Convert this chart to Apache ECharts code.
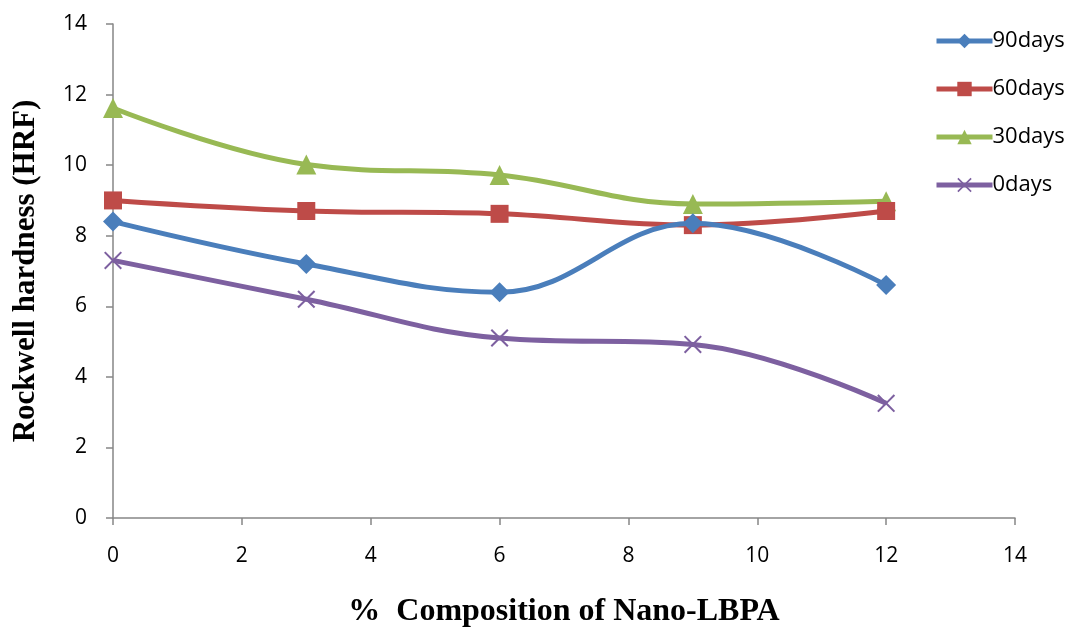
<!DOCTYPE html>
<html><head><meta charset="utf-8">
<script src="https://cdn.jsdelivr.net/npm/echarts@6/dist/echarts.min.js"></script>
<style>html,body{margin:0;padding:0;background:#fff}#c{width:1074px;height:633px}</style>
</head><body><div id="c"></div>
<script>
const xValues = [0, 3, 6, 9, 12];
const seriesNames = ['90days', '60days', '30days', '0days'];
const d90 = [8.4, 7.2, 6.4, 8.35, 6.6];
const d60 = [9.0, 8.7, 8.62, 8.3, 8.7];
const d30 = [11.62, 10.02, 9.72, 8.9, 8.98];
const d0 = [7.3, 6.2, 5.1, 4.92, 3.25];
const xTitle = '%  Composition of Nano-LBPA';
const yTitle = 'Rockwell hardness (HRF)';

const colors = ['#4A7EBB', '#BE4B48', '#98B954', '#7D60A0'];
const crossPath = 'path://M0,0.8L0.8,0L5,4.2L9.2,0L10,0.8L5.8,5L10,9.2L9.2,10L5,5.8L0.8,10L0,9.2L4.2,5Z';
const symbols = ['diamond', 'rect', 'triangle', crossPath];
const sizes = [20, 18, 20, 18];
const allData = [d90, d60, d30, d0];

const series = allData.map((arr, i) => ({
  name: seriesNames[i],
  type: 'line',
  smooth: 0.4,
  data: arr.map((v, j) => [xValues[j], v]),
  symbol: symbols[i],
  symbolSize: sizes[i],
  lineStyle: { color: colors[i], width: 5 },
  itemStyle: { color: colors[i] },
  z: 10 - i
}));

const labelStyle = { fontFamily: 'Open Sans', fontSize: 21, color: '#000' };

const chart = echarts.init(document.getElementById('c'));
chart.setOption({
  animation: false,
  grid: { left: 113, right: 59, top: 24, bottom: 114, containLabel: false },
  legend: {
    orient: 'vertical', left: 934, top: 30, padding: 0,
    itemWidth: 56, itemHeight: 18, itemGap: 26,
    lineStyle: { width: 5 },
    textStyle: { fontFamily: 'Open Sans', fontSize: 22, color: '#000', padding: [0, 0, 0, -5] },
    data: seriesNames
  },
  xAxis: {
    type: 'value', min: 0, max: 14, interval: 2,
    name: xTitle, nameLocation: 'middle', nameGap: 78,
    nameTextStyle: { fontFamily: 'Liberation Serif', fontWeight: 'bold', fontSize: 32, color: '#000' },
    axisLine: { lineStyle: { color: '#868686', width: 1.5 } },
    axisTick: { show: true, length: 7, lineStyle: { color: '#868686', width: 1.5 } },
    axisLabel: Object.assign({ margin: 28 }, labelStyle),
    splitLine: { show: false }
  },
  yAxis: {
    type: 'value', min: 0, max: 14, interval: 2,
    name: yTitle, nameLocation: 'middle', nameGap: 72, nameRotate: 90,
    nameTextStyle: { fontFamily: 'Liberation Serif', fontWeight: 'bold', fontSize: 31, color: '#000' },
    axisLine: { show: true, lineStyle: { color: '#868686', width: 1.5 } },
    axisTick: { show: true, length: 7, lineStyle: { color: '#868686', width: 1.5 } },
    axisLabel: Object.assign({ margin: 26 }, labelStyle),
    splitLine: { show: false }
  },
  series: series
});
</script></body></html>
